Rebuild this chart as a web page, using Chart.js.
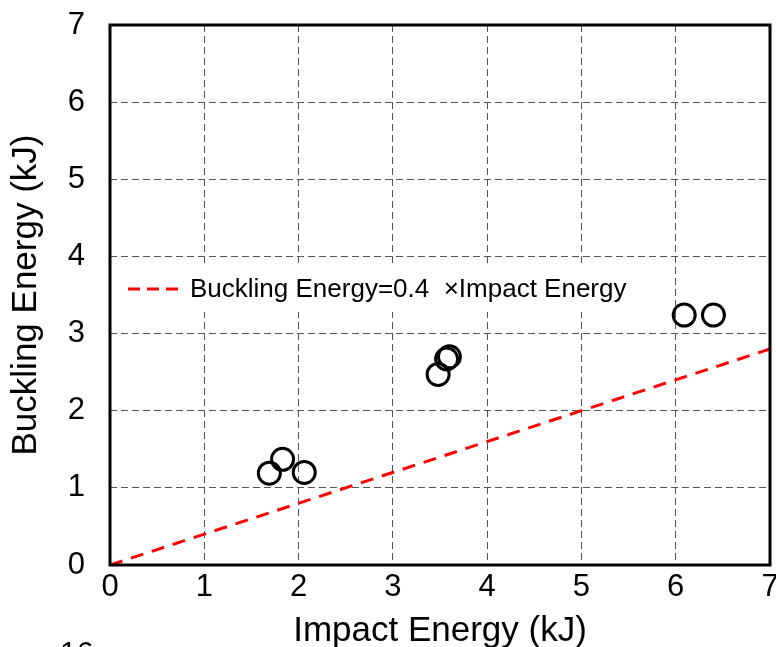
<!DOCTYPE html>
<html>
<head>
<meta charset="utf-8">
<script src="https://cdn.jsdelivr.net/npm/chart.js@4.4.0/dist/chart.umd.min.js"></script>
<style>
  html, body { margin: 0; padding: 0; background: #fff; overflow: hidden; }
  #wrap { position: relative; width: 776px; height: 647px; overflow: hidden; }
  #cut { position: absolute; left: 60px; top: 637px; font: 30px "Liberation Sans", Arial, sans-serif; line-height: 1; color: #000; }
</style>
</head>
<body>
<div id="wrap">
  <canvas id="chart1" width="784" height="647"></canvas>
  <div id="cut">16</div>
</div>
<script>
// measured points
const impactEnergy = [1.69, 1.83, 2.06, 3.48, 3.57, 3.60, 6.09, 6.40];
const bucklingEnergy = [1.19, 1.37, 1.20, 2.47, 2.67, 2.70, 3.24, 3.24];

// reference line
const lineX = [0, 7];
const lineY = [0, 2.8];
const lineLabel = "Buckling Energy=0.4  \u00d7Impact Energy";

const axisTicks = [0, 1, 2, 3, 4, 5, 6, 7];
const xTitle = "Impact Energy (kJ)";
const yTitle = "Buckling Energy (kJ)";

const fontFam = '"Liberation Sans", Arial, sans-serif';

// frame round the plot + legend box inside
const framePlugin = {
    id: "frame",
    afterDraw(chart) {
        const ctx = chart.ctx;
        const a = chart.chartArea;
        ctx.save();
        ctx.strokeStyle = "#000";
        ctx.lineWidth = 3;
        ctx.strokeRect(a.left, a.top, a.right - a.left, a.bottom - a.top);

        // legend
        const ds = chart.data.datasets[1];
        ctx.fillStyle = "#fff";
        ctx.fillRect(118, 266, 518, 46);
        ctx.strokeStyle = ds.borderColor;
        ctx.lineWidth = 3;
        ctx.setLineDash([12, 7]);
        ctx.beginPath();
        ctx.moveTo(128, 289);
        ctx.lineTo(182, 289);
        ctx.stroke();
        ctx.setLineDash([]);
        ctx.fillStyle = "#000";
        ctx.font = "26px " + fontFam;
        ctx.textBaseline = "middle";
        ctx.fillText(ds.label, 190, 290);
        ctx.restore();
    }
};

new Chart("chart1", {
    type: "scatter",
    data: {
        datasets: [
            {
                label: "data",
                data: impactEnergy.map((x, i) => ({x: x, y: bucklingEnergy[i]})),
                borderColor: "#000",
                backgroundColor: "rgba(0,0,0,0)",
                borderWidth: 3,
                pointRadius: 11,
                pointHoverRadius: 11
            },
            {
                type: "line",
                label: lineLabel,
                data: lineX.map((x, i) => ({x: x, y: lineY[i]})),
                borderColor: "#ff0000",
                borderWidth: 3,
                borderDash: [13, 9],
                pointRadius: 0,
                fill: false
            }
        ]
    },
    options: {
        responsive: false,
        animation: false,
        layout: {padding: {top: 25, right: 0, left: 0, bottom: 0}},
        plugins: {
            legend: {display: false},
            tooltip: {enabled: false}
        },
        scales: {
            x: {
                type: "linear",
                min: 0, max: 7,
                afterFit: s => { s.height = 82; },
                afterBuildTicks: s => { s.ticks = axisTicks.map(v => ({value: v})); },
                grid: {color: "#555", lineWidth: 1, drawTicks: false},
                border: {display: false, dash: [7, 4]},
                ticks: {color: "#000", font: {family: fontFam, size: 31}, padding: 4, maxRotation: 0},
                title: {display: true, text: xTitle, color: "#000", font: {family: fontFam, size: 35}, padding: {top: 0, bottom: -5}}
            },
            y: {
                type: "linear",
                min: 0, max: 7,
                afterFit: s => { s.width = 110; s.paddingTop = 0; s.paddingBottom = 0; },
                afterBuildTicks: s => { s.ticks = axisTicks.map(v => ({value: v})); },
                grid: {color: "#555", lineWidth: 1, drawTicks: false},
                border: {display: false, dash: [7, 4]},
                ticks: {color: "#000", font: {family: fontFam, size: 31}, padding: 25},
                title: {display: true, text: yTitle, color: "#000", font: {family: fontFam, size: 35}, padding: {top: 5, bottom: 0}}
            }
        }
    },
    plugins: [framePlugin]
});
</script>
</body>
</html>
